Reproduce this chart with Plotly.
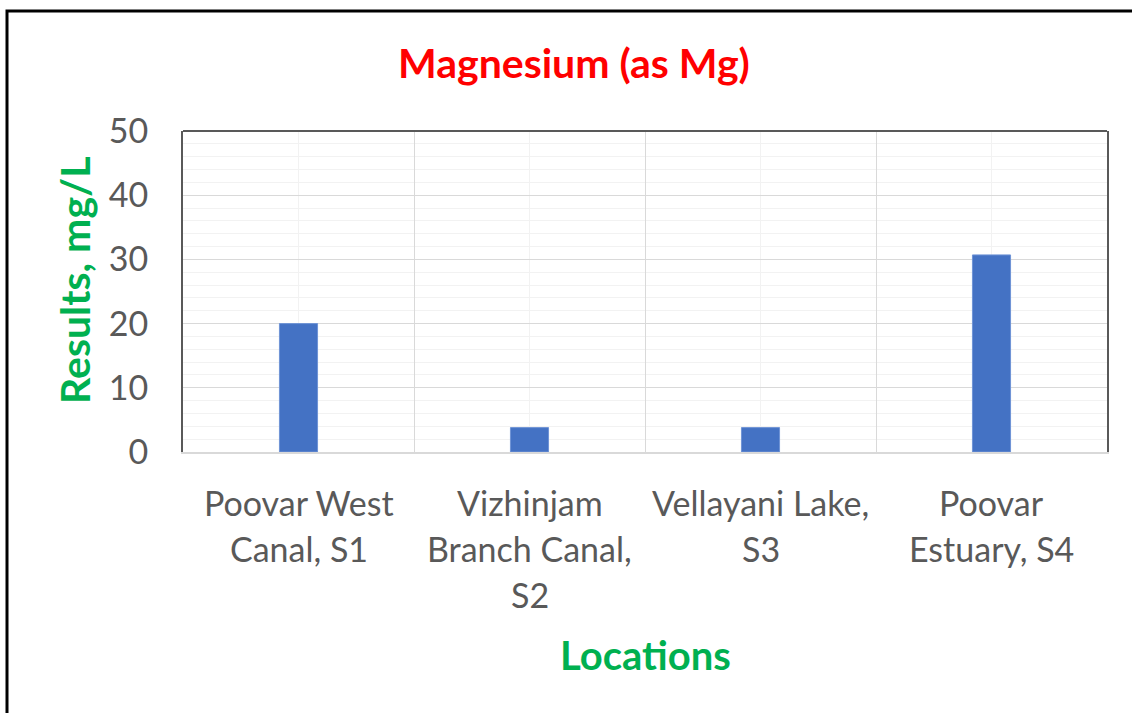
import plotly.graph_objects as go

# Sampling locations (one label line per list item) and magnesium results, mg/L
locations = [
    ["Poovar West", "Canal, S1"],
    ["Vizhinjam", "Branch Canal,", "S2"],
    ["Vellayani Lake,", "S3"],
    ["Poovar", "Estuary, S4"],
]
magnesium = [20, 3.8, 3.8, 30.7]
y_ticks = [0, 10, 20, 30, 40, 50]

FONT = "Lato"
W, H = 1132, 713
L, R, T, B = 183, 25, 131, 261
PW, PH = W - L - R, H - T - B


def px_x(px):
    return (px - L) / PW


def px_y(py):
    return (H - B - py) / PH


xs = list(range(len(locations)))

fig = go.Figure(
    go.Bar(
        x=xs,
        y=magnesium,
        width=0.165,
        marker=dict(color="#4472C4", line=dict(color="#6f93d6", width=1)),
        hoverinfo="y",
    )
)

fig.update_layout(
    width=W,
    height=H,
    margin=dict(l=L, r=R, t=T, b=B),
    paper_bgcolor="white",
    plot_bgcolor="white",
    showlegend=False,
    font=dict(family=FONT, color="#595959"),
)

fig.update_xaxes(
    range=[-0.5, len(locations) - 0.5],
    tickvals=[i + 0.5 for i in xs[:-1]],
    showticklabels=False,
    showgrid=True,
    gridcolor="#d9d9d9",
    gridwidth=1,
    minor=dict(tickvals=xs, showgrid=True, gridcolor="#f2f2f2", gridwidth=1),
    showline=True,
    linecolor="#d9d9d9",
    linewidth=2,
    zeroline=False,
    ticks="",
)

fig.update_yaxes(
    range=[0, 50],
    tickvals=y_ticks,
    tickfont=dict(family=FONT, size=34, color="#595959"),
    ticklabelstandoff=26,
    showgrid=True,
    gridcolor="#d9d9d9",
    gridwidth=1,
    minor=dict(dtick=2, showgrid=True, gridcolor="#f2f2f2", gridwidth=1),
    showline=True,
    linecolor="#595959",
    linewidth=2,
    mirror=True,
    zeroline=False,
    ticks="",
)

shapes = [
    # top edge of the plot area
    dict(type="line", xref="paper", yref="paper", x0=0, x1=1, y0=1, y1=1,
         line=dict(color="#595959", width=2)),
    # outer chart frame
    dict(type="rect", xref="paper", yref="paper",
         x0=px_x(7), x1=px_x(1145), y0=px_y(11), y1=px_y(730),
         line=dict(color="black", width=3), fillcolor="rgba(0,0,0,0)", layer="above"),
]

annotations = []
# category labels, one annotation per text line
for i, lines in enumerate(locations):
    for j, line in enumerate(lines):
        annotations.append(dict(
            x=i, xref="x", y=px_y(502 + 46 * j), yref="paper",
            text=line, showarrow=False, xanchor="center", yanchor="middle",
            font=dict(family=FONT, size=34, color="#595959"),
        ))

annotations += [
    dict(x=px_x(574), y=px_y(62), xref="paper", yref="paper",
         text="<b>Magnesium (as Mg)</b>", showarrow=False,
         xanchor="center", yanchor="middle",
         font=dict(family=FONT, size=41, color="#FF0000")),
    dict(x=px_x(74), y=px_y(281), xref="paper", yref="paper",
         text="<b>Results, mg/L</b>", showarrow=False, textangle=-90,
         xanchor="center", yanchor="middle",
         font=dict(family=FONT, size=41, color="#00B050")),
    dict(x=px_x(645), y=px_y(655), xref="paper", yref="paper",
         text="<b>Locations</b>", showarrow=False,
         xanchor="center", yanchor="middle",
         font=dict(family=FONT, size=40, color="#00B050")),
]

fig.update_layout(shapes=shapes, annotations=annotations)

fig.write_html("out.html")
